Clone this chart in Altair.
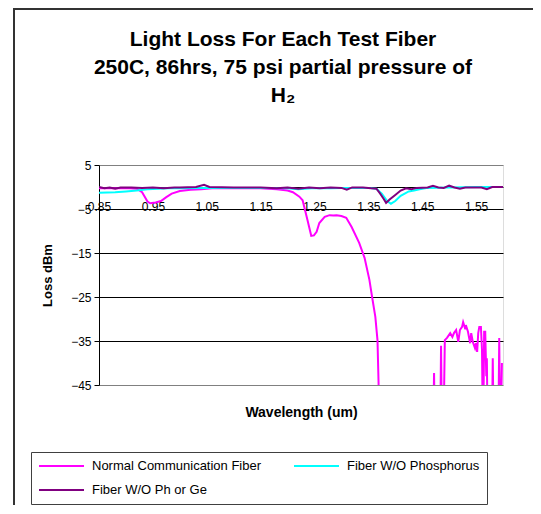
import altair as alt
import pandas as pd

# ---------------- data ----------------
series_names = ["Normal Communication Fiber", "Fiber W/O Phosphorus", "Fiber W/O Ph or Ge"]
series_colors = ["#FF00FF", "#00FFFF", "#800080"]

x_ticks = [0.85, 0.95, 1.05, 1.15, 1.25, 1.35, 1.45, 1.55]
y_ticks = [5, -5, -15, -25, -35, -45]

# Normal Communication Fiber (values below -45 fall off the chart)
normal_w = [0.85, 0.88, 0.90, 0.92, 0.93, 0.94, 0.945, 0.955, 0.965, 0.975, 0.985,
            1.00, 1.02, 1.04, 1.06, 1.10, 1.15, 1.18, 1.20, 1.21, 1.222, 1.228,
            1.237, 1.244, 1.249, 1.254, 1.259, 1.269, 1.278, 1.285, 1.291, 1.300,
            1.309, 1.319, 1.333, 1.343, 1.352, 1.357, 1.363, 1.367, 1.369, 1.371,
            1.470, 1.472, 1.474, 1.483, 1.485, 1.487, 1.489, 1.492, 1.496, 1.502,
            1.506, 1.509, 1.513, 1.517, 1.520, 1.524, 1.526, 1.530, 1.531, 1.535,
            1.539, 1.541, 1.544, 1.548, 1.550, 1.552, 1.554, 1.556, 1.559, 1.561,
            1.563, 1.565, 1.567, 1.569, 1.570, 1.572, 1.579, 1.581, 1.583, 1.591,
            1.593, 1.595, 1.598]
normal_v = [-0.3, -0.3, -0.2, -0.4, -1.2, -3.3, -3.7, -3.5, -3.2, -2.3, -1.5,
            -0.9, -0.6, -0.5, -0.3, -0.3, -0.3, -0.5, -0.8, -1.2, -2.2, -3.0,
            -7.5, -11.1, -11.0, -10.2, -8.2, -6.8, -6.4, -6.5, -6.4, -6.6,
            -7.0, -9.1, -12.7, -16.1, -21.1, -25.0, -29.5, -34.8, -44.6, -60,
            -60, -42.3, -60, -60, -36.1, -60, -60, -34.8, -34.3, -33.2,
            -34.1, -33.2, -32.5, -35.2, -32.5, -31.8, -30.7, -32.3, -31.4, -32.9,
            -35.5, -33.2, -35.2, -36.6, -35.5, -37.5, -33.2, -31.8, -31.8, -37.0,
            -60, -32.9, -32.9, -43.0, -38.9, -60, -60, -38.9, -60, -60,
            -34.3, -60, -40.0]

# Fiber W/O Phosphorus
phos_w = [0.85, 0.88, 0.90, 0.92, 0.94, 0.96, 0.98, 1.00, 1.05, 1.10, 1.15, 1.20,
          1.22, 1.25, 1.28, 1.30, 1.35, 1.365, 1.375, 1.385, 1.392, 1.40, 1.41,
          1.425, 1.435, 1.445, 1.46, 1.50, 1.55, 1.60]
phos_v = [-1.3, -1.2, -1.0, -0.8, -0.5, -0.4, -0.3, -0.3, -0.2, -0.2, -0.2, -0.3,
          -0.5, -0.2, -0.3, -0.2, -0.2, -0.4, -1.5, -3.2, -3.8, -3.2, -2.0,
          -1.0, -0.8, -0.5, -0.2, -0.1, 0.0, 0.0]

# Fiber W/O Ph or Ge
phge_w = [0.85, 0.86, 0.87, 0.88, 0.89, 0.91, 0.93, 0.95, 0.97, 0.99, 1.00, 1.03,
          1.045, 1.055, 1.10, 1.15, 1.18, 1.20, 1.22, 1.24, 1.26, 1.28, 1.30, 1.31,
          1.32, 1.34, 1.355, 1.365, 1.372, 1.378, 1.383, 1.39, 1.40, 1.41, 1.42,
          1.43, 1.44, 1.46, 1.47, 1.48, 1.49, 1.50, 1.51, 1.52, 1.53, 1.56, 1.57,
          1.58, 1.60]
phge_v = [0.0, -0.3, -0.1, -0.4, -0.1, -0.1, -0.2, -0.1, -0.3, -0.1, -0.1, 0.0,
          0.5, 0.0, -0.1, -0.1, -0.3, -0.1, -0.4, -0.1, -0.3, -0.1, -0.2, -0.6,
          -0.1, -0.1, -0.3, -0.4, -1.5, -2.6, -3.6, -2.8, -1.8, -0.8, -0.3,
          -0.5, -0.2, -0.1, 0.3, -0.1, -0.2, 0.3, -0.1, -0.4, -0.1, -0.1, -0.5,
          0.0, 0.0]

frames = []
for name, ws, vs in [(series_names[0], normal_w, normal_v),
                     (series_names[1], phos_w, phos_v),
                     (series_names[2], phge_w, phge_v)]:
    frames.append(pd.DataFrame({"w": ws, "v": vs, "series": name}))
df = pd.concat(frames, ignore_index=True)

FONT = "Liberation Sans"

x_enc = alt.X(
    "w:Q",
    scale=alt.Scale(domain=[0.85, 1.6], nice=False, zero=False),
    axis=alt.Axis(
        values=x_ticks, format=".2f", offset=-198, tickSize=0,
        labelPadding=14, labelFlush=False, labelOverlap=False,
        labelFontSize=12, labelColor="black", labelFont=FONT,
        domainColor="black", grid=False,
        title="Wavelength (um)", titleY=225, titleBaseline="middle",
        titleFontSize=14, titleFontWeight="bold", titleFont=FONT, titleColor="black",
    ),
)
y_enc = alt.Y(
    "v:Q",
    scale=alt.Scale(domain=[-45, 5], nice=False, zero=False),
    axis=alt.Axis(
        values=y_ticks, grid=True,
        gridColor={"condition": {"test": "datum.value == 5 || datum.value == -45",
                                 "value": "#808080"}, "value": "black"},
        gridOpacity=1, tickSize=5, tickColor="black", domainColor="black",
        labelFontSize=12, labelColor="black", labelFont=FONT, labelPadding=3,
        title="Loss dBm", titleX=-52, titleY=110, titleBaseline="middle",
        titleFontSize=13, titleFontWeight="bold", titleFont=FONT, titleColor="black",
    ),
)
color_enc = alt.Color(
    "series:N",
    scale=alt.Scale(domain=series_names, range=series_colors),
    legend=alt.Legend(
        title=None, orient="none", legendX=-68, legendY=287,
        direction="horizontal", columns=2, gridAlign="all",
        columnPadding=31, rowPadding=10, clipHeight=14,
        padding=7, strokeColor="#404040", fillColor="white",
        symbolType="stroke", symbolSize=2025, symbolStrokeWidth=2,
        labelFontSize=13, labelFont=FONT, labelColor="black", labelOffset=7,
        labelLimit=300,
    ),
)

base = alt.Chart(df).encode(x=x_enc, y=y_enc, color=color_enc)
layers = [
    base.transform_filter(alt.datum.series == name).mark_line(strokeWidth=2, clip=True)
    for name in series_names
]

frame = alt.Chart(pd.DataFrame({"a": [0]})).mark_rect(
    filled=False, stroke="#333333", strokeWidth=2
).encode(
    x=alt.value(-85), y=alt.value(-156), x2=alt.value(470), y2=alt.value(380)
)

chart = alt.layer(frame, *layers).properties(
    width=404,
    height=220,
    padding={"left": 91, "top": 157, "right": 30, "bottom": 120},
    autosize=alt.AutoSizeParams(type="none"),
    title=alt.TitleParams(
        text=["Light Loss For Each Test Fiber",
              "250C, 86hrs, 75 psi partial pressure of",
              "H₂"],
        fontSize=21, fontWeight="bold", font=FONT, color="black",
        lineHeight=28, anchor="middle", dx=-18, offset=-98,
    ),
).configure_view(
    fill="#C0C0C0", stroke="#808080", strokeWidth=1
).configure(background="white")

chart.save("out.html", embed_options={"renderer": "svg", "actions": False})
